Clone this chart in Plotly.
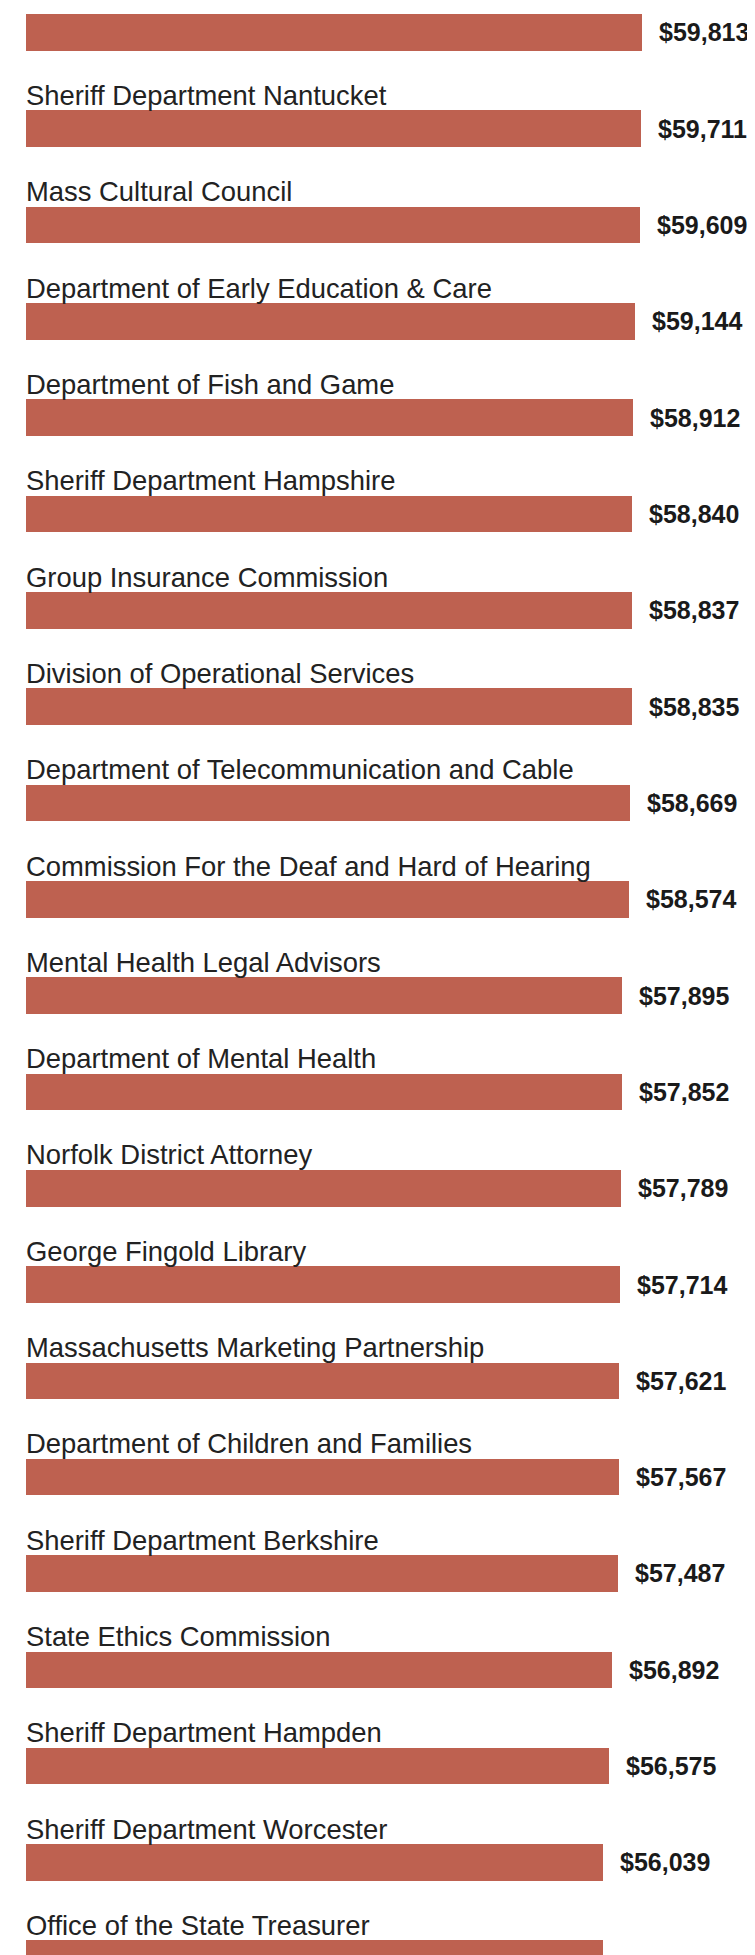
import plotly.graph_objects as go

# Data (sorted descending); first bar's label is outside the visible crop
departments = [
    "",
    "Sheriff Department Nantucket",
    "Mass Cultural Council",
    "Department of Early Education & Care",
    "Department of Fish and Game",
    "Sheriff Department Hampshire",
    "Group Insurance Commission",
    "Division of Operational Services",
    "Department of Telecommunication and Cable",
    "Commission For the Deaf and Hard of Hearing",
    "Mental Health Legal Advisors",
    "Department of Mental Health",
    "Norfolk District Attorney",
    "George Fingold Library",
    "Massachusetts Marketing Partnership",
    "Department of Children and Families",
    "Sheriff Department Berkshire",
    "State Ethics Commission",
    "Sheriff Department Hampden",
    "Sheriff Department Worcester",
    "Office of the State Treasurer",
]
salaries = [
    59813, 59711, 59609, 59144, 58912, 58840, 58837, 58835, 58669, 58574,
    57895, 57852, 57789, 57714, 57621, 57567, 57487, 56892, 56575, 56039,
    55990,
]
positions = list(range(len(departments)))

BAR_COLOR = "#BE6150"
FONT = "Liberation Sans, Arial, Helvetica, sans-serif"

fig = go.Figure()
fig.add_trace(go.Bar(
    x=salaries,
    y=positions,
    orientation="h",
    marker=dict(color=BAR_COLOR, line=dict(width=0)),
    width=0.38,
    hoverinfo="skip",
))

annotations = []
for pos, name, val in zip(positions, departments, salaries):
    if name:
        annotations.append(dict(
            x=0, y=pos - 0.345, xref="x", yref="y",
            text=name, showarrow=False,
            xanchor="left", yanchor="middle", xshift=-2,
            font=dict(family=FONT, size=27.4, color="#222222"),
        ))
    annotations.append(dict(
        x=val, y=pos, xref="x", yref="y",
        text=f"${val:,}", showarrow=False,
        xanchor="left", yanchor="middle", xshift=15,
        font=dict(family=FONT, size=25, color="#1a1a1a", weight="bold"),
    ))

fig.update_layout(
    width=747, height=1947,
    margin=dict(l=18, r=0, t=0, b=0),
    paper_bgcolor="white", plot_bgcolor="white",
    showlegend=False,
    bargap=0,
    xaxis=dict(range=[0, 70780], visible=False, showgrid=False, zeroline=False, fixedrange=True),
    yaxis=dict(range=[19.961, -0.2533], visible=False, showgrid=False, zeroline=False, fixedrange=True),
    annotations=annotations,
)

fig.write_html("out.html", config={"displayModeBar": False})
